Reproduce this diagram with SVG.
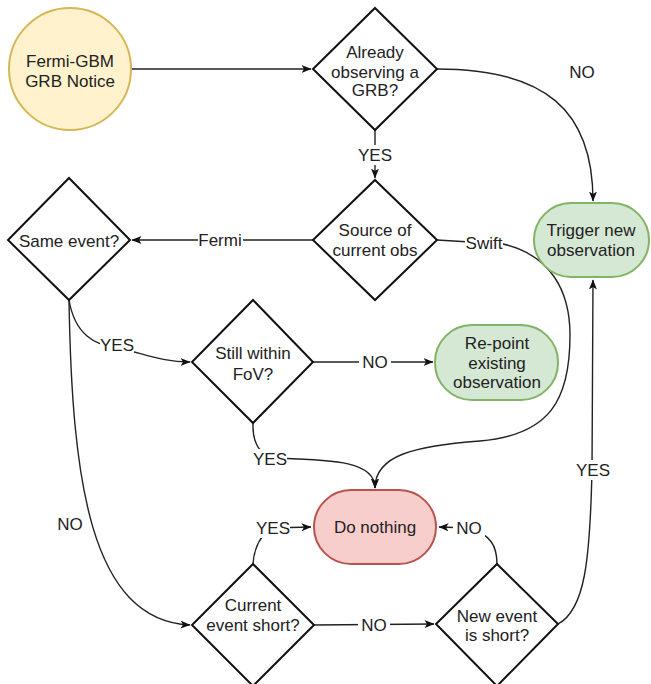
<svg xmlns="http://www.w3.org/2000/svg" width="651" height="684" viewBox="0 0 651 684">
<style>
text{font-family:"Liberation Sans",Arial,sans-serif;font-size:17px;fill:#222;text-anchor:middle}
.dia{fill:#fff;stroke:#111;stroke-width:2}
.green{fill:#d5e8d4;stroke:#82b366;stroke-width:2}
.red{fill:#f8cecc;stroke:#b85450;stroke-width:2}
.yellow{fill:#fff2cc;stroke:#d6b656;stroke-width:2}
.edge{fill:none;stroke:#222;stroke-width:1.4;marker-end:url(#arr)}
.line{fill:none;stroke:#222;stroke-width:1.4}
.lbg{fill:#fff}
</style>
<defs>
<marker id="arr" viewBox="0 0 10 8" refX="9.5" refY="4" markerWidth="10" markerHeight="8" markerUnits="userSpaceOnUse" orient="auto">
<path d="M0,0 L10,4 L0,8 L2.5,4 z" fill="#111"/>
</marker>
</defs>
<rect width="651" height="684" fill="#fff"/>
<g id="connectors">
<path class="edge" d="M131,69 L311,69"/>
<path class="edge" d="M437,69 C545,69 593,110 593,201"/>
<path class="edge" d="M375,130 L375,178"/>
<path class="edge" d="M313,240 L132,240"/>
<path class="edge" d="M437,240 L503,244 C550,255 570,290 570,335 C570,400 550,435 480,441 C415,446 375,455 375,488"/>
<path class="edge" d="M69,300 C75,335 95,345 117,348 C140,352 160,362 190,362"/>
<path class="edge" d="M69,300 C72,480 90,620 190,625"/>
<path class="edge" d="M313,362 L433,362"/>
<path class="edge" d="M253,423 C252,445 262,455 272,458 C330,460 375,460 375,488"/>
<path class="edge" d="M253,564 C254,545 262,535 270,528 L311,527"/>
<path class="edge" d="M314,625 L434,624"/>
<path class="edge" d="M497,564 C497,545 490,535 470,528 L439,527"/>
<path class="edge" d="M558,624 C585,610 590,560 592,470 L593,280"/>
<g id="edge-labels">
<rect class="lbg" x="357" y="145" width="36" height="20"/><text x="375" y="161">YES</text>
<text x="582" y="78">NO</text>
<rect class="lbg" x="198" y="230" width="45" height="20"/><text x="220" y="246">Fermi</text>
<rect class="lbg" x="465" y="233" width="38" height="20"/><text x="484" y="249">Swift</text>
<rect class="lbg" x="100" y="335" width="34" height="20"/><text x="117" y="351">YES</text>
<rect class="lbg" x="359" y="352" width="32" height="20"/><text x="375" y="368">NO</text>
<rect class="lbg" x="253" y="449" width="34" height="20"/><text x="270" y="465">YES</text>
<rect class="lbg" x="256" y="518" width="34" height="20"/><text x="273" y="534">YES</text>
<rect class="lbg" x="453" y="518" width="32" height="20"/><text x="469" y="534">NO</text>
<rect class="lbg" x="358" y="615" width="32" height="20"/><text x="374" y="631">NO</text>
<rect class="lbg" x="576" y="460" width="34" height="20"/><text x="593" y="476">YES</text>
<text x="70" y="530">NO</text>
</g>
</g>
<g id="node-notice">
<circle class="yellow" cx="70" cy="69" r="61"/>
<text x="70" y="67">Fermi-GBM</text>
<text x="70" y="87">GRB Notice</text>
</g>
<g id="node-already">
<path class="dia" d="M375,8 L437,69 L375,130 L313,69 Z"/>
<text x="375" y="58">Already</text>
<text x="375" y="78">observing a</text>
<text x="375" y="96">GRB?</text>
</g>
<g id="node-source">
<path class="dia" d="M375,180 L437,240 L375,300 L313,240 Z"/>
<text x="375" y="236">Source of</text>
<text x="375" y="256">current obs</text>
</g>
<g id="node-trigger">
<rect class="green" x="534" y="203" width="115" height="74" rx="37" ry="37"/>
<text x="591" y="236">Trigger new</text>
<text x="591" y="256">observation</text>
</g>
<g id="node-same">
<path class="dia" d="M69,178 L130,240 L69,300 L8,240 Z"/>
<text x="69" y="247">Same event?</text>
</g>
<g id="node-fov">
<path class="dia" d="M253,300 L313,362 L253,423 L192,362 Z"/>
<text x="253" y="359">Still within</text>
<text x="253" y="380">FoV?</text>
</g>
<g id="node-repoint">
<rect class="green" x="435" y="325" width="123" height="75" rx="37" ry="37"/>
<text x="497" y="349">Re-point</text>
<text x="497" y="369">existing</text>
<text x="497" y="388">observation</text>
</g>
<g id="node-nothing">
<rect class="red" x="314" y="490" width="122" height="74" rx="37" ry="37"/>
<text x="375" y="533">Do nothing</text>
</g>
<g id="node-current">
<path class="dia" d="M253,564 L314,625 L253,686 L192,625 Z"/>
<text x="253" y="611">Current</text>
<text x="253" y="631">event short?</text>
</g>
<g id="node-new">
<path class="dia" d="M497,564 L558,624 L497,686 L436,624 Z"/>
<text x="497" y="622">New event</text>
<text x="497" y="641">is short?</text>
</g>
</svg>
